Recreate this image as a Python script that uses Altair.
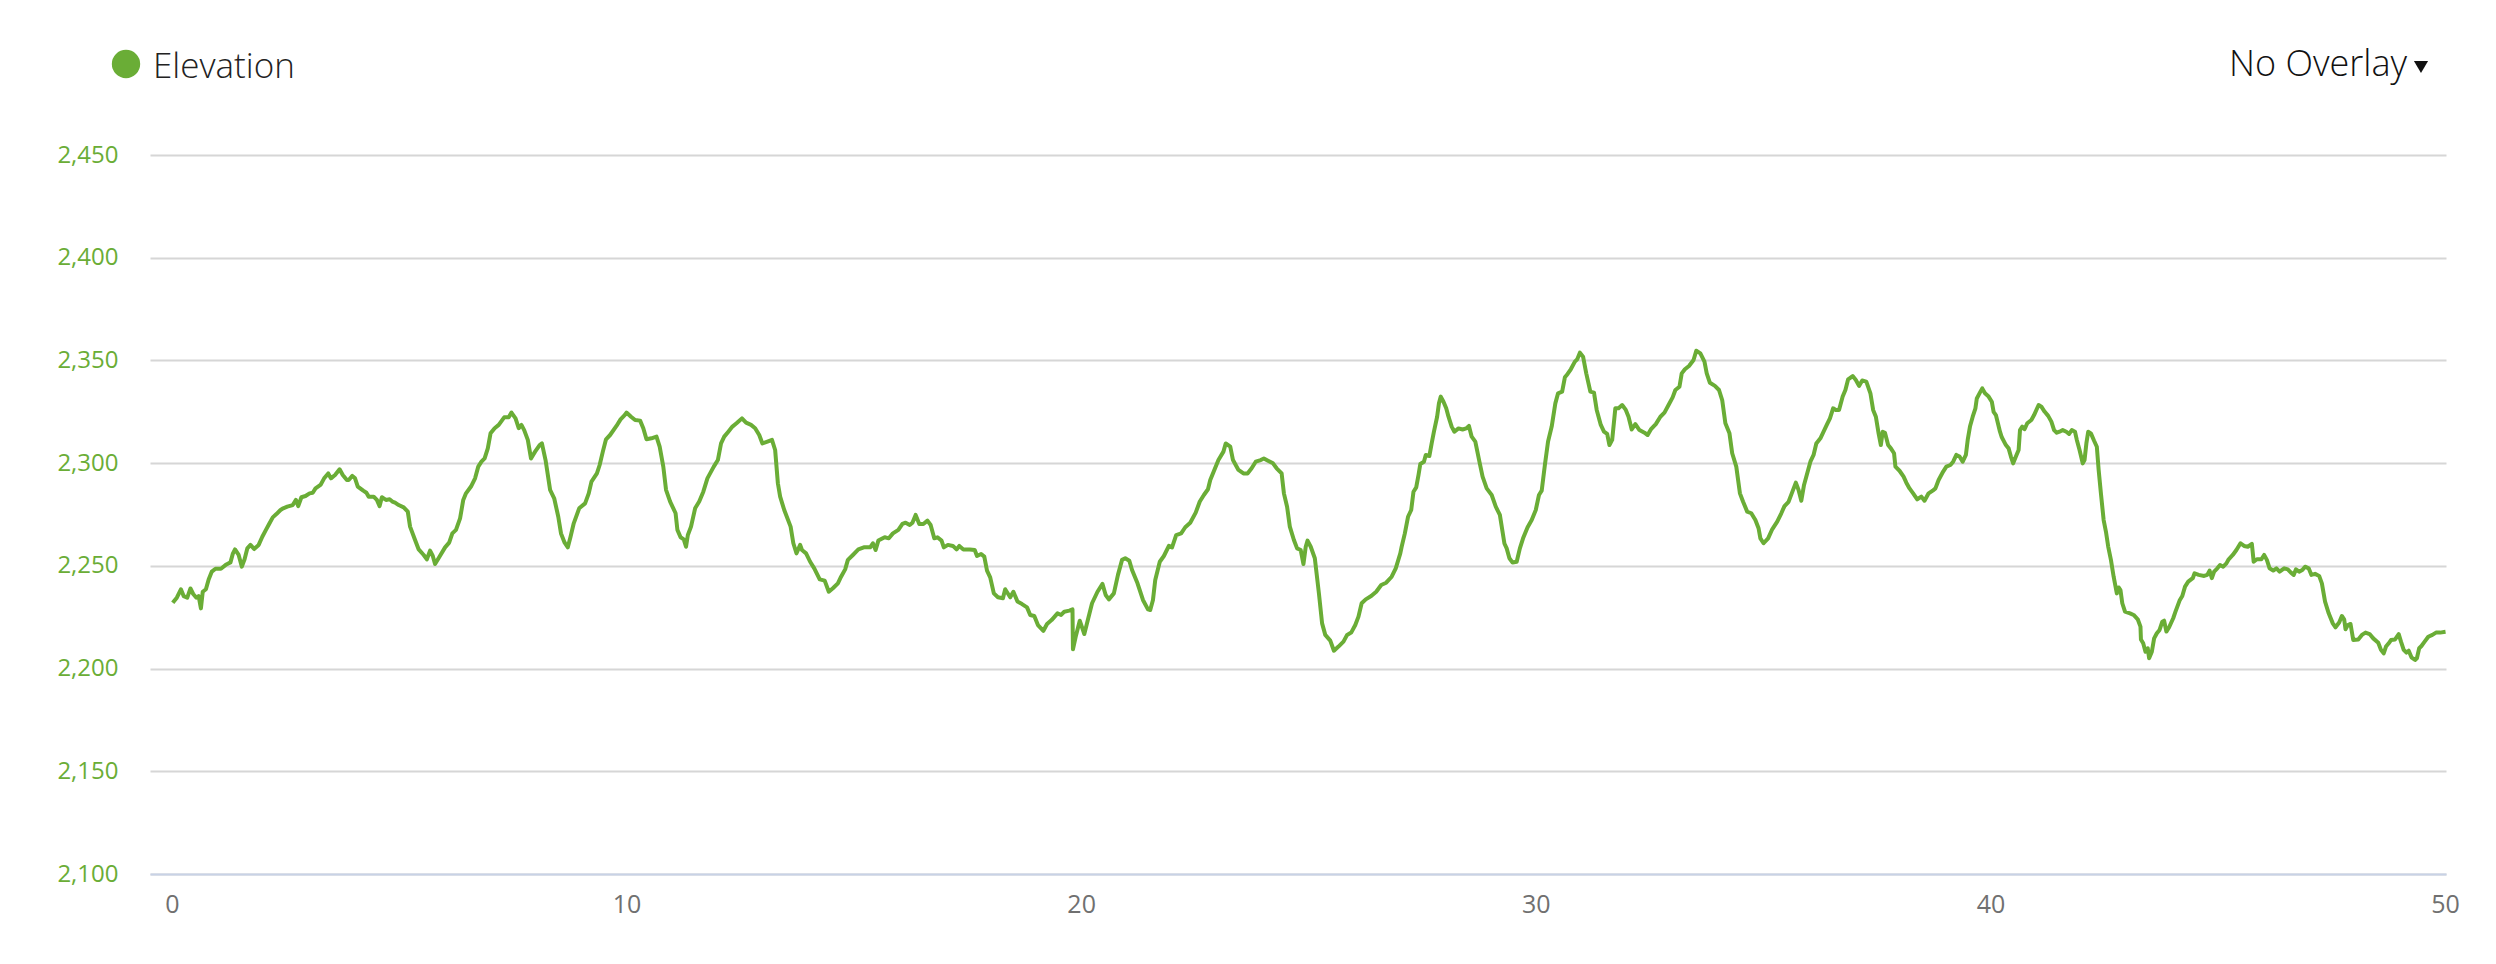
import altair as alt
import pandas as pd

# ---- data (distance in km, elevation in m) ----
distance_km = [
    0.02, 0.11, 0.20, 0.26, 0.34, 0.41, 0.47, 0.54, 0.59, 0.64, 0.68, 0.75, 0.81, 0.88, 0.96,
    1.08, 1.20, 1.29, 1.34, 1.39, 1.47, 1.54, 1.60, 1.66, 1.73, 1.81, 1.91, 1.99, 2.07, 2.14,
    2.22, 2.30, 2.39, 2.45, 2.54, 2.66, 2.73, 2.78, 2.85, 2.94, 3.03, 3.10, 3.16, 3.27, 3.35,
    3.44, 3.50, 3.59, 3.69, 3.76, 3.85, 3.89, 3.97, 4.03, 4.09, 4.21, 4.28, 4.33, 4.44, 4.51,
    4.57, 4.62, 4.71, 4.79, 4.85, 4.91, 4.99, 5.10, 5.19, 5.24, 5.35, 5.43, 5.54, 5.61, 5.68,
    5.74, 5.79, 5.88, 6.01, 6.10, 6.17, 6.25, 6.34, 6.41, 6.47, 6.58, 6.67, 6.74, 6.81, 6.88,
    6.95, 7.01, 7.10, 7.19, 7.31, 7.41, 7.47, 7.56, 7.63, 7.69, 7.75, 7.83, 7.90, 7.99, 8.09,
    8.14, 8.22, 8.32, 8.41, 8.50, 8.56, 8.64, 8.71, 8.77, 8.84, 8.96, 9.09, 9.17, 9.23, 9.35,
    9.41, 9.48, 9.55, 9.64, 9.78, 9.87, 9.96, 10.00, 10.10, 10.19, 10.30, 10.37, 10.44, 10.55, 10.66,
    10.73, 10.81, 10.87, 10.96, 11.08, 11.12, 11.19, 11.26, 11.31, 11.35, 11.42, 11.51, 11.60, 11.69, 11.78,
    11.92, 12.01, 12.08, 12.15, 12.24, 12.33, 12.42, 12.54, 12.63, 12.74, 12.83, 12.92, 12.99, 13.10, 13.20,
    13.27, 13.33, 13.38, 13.47, 13.61, 13.67, 13.74, 13.82,
    13.86, 13.95, 14.04, 14.13, 14.25, 14.36, 14.45, 14.54, 14.65, 14.72, 14.81, 14.87, 14.98, 15.10, 15.22,
    15.36, 15.42, 15.48, 15.54, 15.68, 15.77, 15.86, 15.98, 16.07, 16.14, 16.23, 16.29, 16.36, 16.44, 16.53,
    16.62, 16.69, 16.77, 16.84, 16.93, 16.98, 17.07, 17.18, 17.26, 17.32, 17.41, 17.55, 17.66, 17.71, 17.80,
    17.87, 17.93, 18.00, 18.08, 18.17, 18.28, 18.33, 18.44, 18.51, 18.60, 18.70, 18.81, 18.88, 18.97, 19.05,
    19.17, 19.25, 19.35, 19.48, 19.56, 19.63, 19.74, 19.81, 19.82, 19.88, 19.97, 20.07, 20.15, 20.24, 20.36,
    20.47, 20.54, 20.61, 20.72, 20.81, 20.90, 20.97, 21.06, 21.12, 21.24, 21.36, 21.47, 21.52, 21.58, 21.63,
    21.73, 21.82, 21.93, 22.00, 22.09, 22.20, 22.29, 22.40, 22.52, 22.61, 22.70, 22.79, 22.84, 22.93, 23.02,
    23.13, 23.18, 23.28, 23.34, 23.46, 23.57, 23.66, 23.75, 23.84, 23.95, 24.02, 24.11, 24.22, 24.30, 24.41,
    24.46, 24.53, 24.59, 24.68, 24.75, 24.83, 24.89, 24.94, 24.98, 25.05, 25.14, 25.23, 25.30, 25.37, 25.48,
    25.56, 25.66, 25.77, 25.85, 25.94, 26.03, 26.10, 26.17, 26.26, 26.38, 26.49, 26.60, 26.71, 26.83, 26.92,
    27.02,
    27.05, 27.12, 27.19, 27.26, 27.31, 27.37, 27.42, 27.46, 27.54, 27.58, 27.66, 27.71, 27.76, 27.83, 27.87,
    27.91, 27.97, 28.03, 28.08, 28.15, 28.21, 28.30, 28.39, 28.47, 28.53, 28.59, 28.67, 28.76, 28.83, 28.92,
    29.03, 29.12, 29.21, 29.31, 29.36, 29.42, 29.49, 29.58, 29.65, 29.72, 29.82, 29.91, 30.00, 30.07, 30.13,
    30.20, 30.27, 30.35, 30.43, 30.49, 30.58, 30.64, 30.70, 30.77, 30.86, 30.91, 30.97, 31.04, 31.11, 31.20,
    31.28, 31.34, 31.43, 31.50, 31.57, 31.62, 31.68, 31.75, 31.82, 31.90, 31.98, 32.04, 32.11, 32.19, 32.28,
    32.39, 32.46, 32.53, 32.64, 32.74, 32.83, 32.92, 33.01, 33.07, 33.16, 33.21, 33.28, 33.37, 33.47, 33.53,
    33.62, 33.71, 33.76, 33.83, 33.94, 34.03, 34.10, 34.17, 34.26, 34.32, 34.41, 34.49, 34.56, 34.65, 34.74,
    34.83, 34.90, 34.94, 35.01, 35.11, 35.20, 35.31, 35.40, 35.47, 35.56, 35.63, 35.72, 35.78, 35.84, 35.90,
    35.96, 36.04, 36.11, 36.17, 36.26, 36.33, 36.40, 36.47, 36.54, 36.60, 36.67, 36.75, 36.81, 36.87, 36.97,
    37.04, 37.11, 37.18, 37.27, 37.36, 37.42, 37.48, 37.54, 37.59, 37.63, 37.68, 37.75, 37.81, 37.88, 37.91,
    38.00, 38.09, 38.15, 38.22, 38.30, 38.39, 38.48, 38.55, 38.64, 38.73, 38.79, 38.86, 38.96, 39.03, 39.12,
    39.18, 39.25, 39.32, 39.39, 39.46, 39.50, 39.55, 39.61, 39.67, 39.70, 39.78, 39.82, 39.88, 39.96, 40.03,
    40.07, 40.12, 40.21,
    40.25, 40.34, 40.40, 40.45, 40.50, 40.56, 40.62, 40.65, 40.70, 40.75, 40.81, 40.90, 40.96, 41.01, 41.06,
    41.12, 41.19, 41.27, 41.34, 41.40, 41.46, 41.52, 41.59, 41.67, 41.73, 41.79, 41.86, 41.90, 41.96, 42.03,
    42.07, 42.11, 42.15, 42.21, 42.28, 42.34, 42.38, 42.43, 42.49, 42.54, 42.59, 42.65, 42.71, 42.78, 42.82,
    42.86, 42.90, 42.96, 43.07, 43.15, 43.24, 43.30, 43.31, 43.36, 43.41, 43.46, 43.49, 43.55, 43.60, 43.66,
    43.72, 43.78, 43.82, 43.87, 43.93, 44.02, 44.07, 44.16, 44.22, 44.28, 44.35, 44.45, 44.49, 44.58, 44.70,
    44.77, 44.82, 44.87, 44.92, 44.99, 45.05, 45.12, 45.19, 45.24, 45.33, 45.41, 45.50, 45.58, 45.66, 45.75,
    45.79, 45.86, 45.96, 46.02, 46.08, 46.14, 46.22, 46.29, 46.36, 46.46, 46.54, 46.61, 46.67, 46.72, 46.79,
    46.86, 46.92, 47.00, 47.06, 47.14, 47.23, 47.29, 47.36, 47.44, 47.53, 47.59, 47.67, 47.73, 47.78, 47.81,
    47.86, 47.92, 47.98, 48.09, 48.17, 48.25, 48.34, 48.42, 48.53, 48.59, 48.65, 48.70, 48.76, 48.81, 48.90,
    48.98, 49.03, 49.09, 49.15, 49.20, 49.26, 49.34, 49.38, 49.43, 49.48, 49.55, 49.63, 49.72, 49.80, 49.89,
    50.01,
]

elevation_m = [
    2232.0, 2234.5, 2238.6, 2235.3, 2234.5, 2239.0, 2236.3, 2234.5, 2235.3, 2229.3, 2237.4, 2238.6, 2243.4, 2247.2, 2248.6,
    2248.6, 2250.7, 2251.7, 2255.8, 2258.0, 2255.3, 2249.6, 2253.2, 2258.5, 2260.2, 2258.2, 2260.2, 2264.2, 2267.5, 2270.4,
    2273.6, 2275.2, 2277.2, 2278.0, 2278.8, 2279.6, 2282.1, 2279.1, 2283.4, 2284.0, 2285.3, 2285.6, 2287.7, 2289.4, 2292.6,
    2295.0, 2292.6, 2294.2, 2297.0, 2294.2, 2291.8, 2291.8, 2293.8, 2292.6, 2288.6, 2286.6, 2285.6, 2283.7, 2283.7, 2282.1,
    2279.1, 2283.4, 2282.1, 2282.4, 2281.3, 2280.8, 2279.6, 2278.5, 2276.4, 2269.1, 2262.6, 2258.0, 2255.3, 2253.2, 2257.4,
    2254.8, 2250.9, 2254.2, 2259.0, 2261.3, 2265.8, 2267.5, 2273.1, 2282.1, 2285.3, 2288.6, 2292.6, 2298.3, 2300.7, 2302.3,
    2307.2, 2314.5, 2317.0, 2318.6, 2322.3, 2322.3, 2324.6, 2321.8, 2317.0, 2318.6, 2316.1, 2311.3, 2302.3, 2305.6, 2308.8,
    2309.6, 2301.5, 2287.0, 2282.9, 2273.9, 2265.8, 2261.3, 2259.0, 2264.2, 2270.7, 2278.0, 2280.4, 2285.3, 2291.0, 2295.0,
    2299.1, 2305.6, 2311.6, 2313.7, 2318.1, 2321.3, 2323.4, 2324.6, 2322.6, 2321.0, 2320.7, 2317.0, 2311.6, 2312.1, 2312.9,
    2308.0, 2298.3, 2287.0, 2281.3, 2275.6, 2267.5, 2263.9, 2262.9, 2259.3, 2265.0, 2269.1, 2278.0, 2281.3, 2286.1, 2292.6,
    2298.3, 2301.5, 2309.6, 2312.9, 2315.3, 2317.8, 2319.4, 2321.8, 2319.7, 2318.6, 2317.0, 2313.7, 2309.6, 2310.5, 2311.3,
    2306.4, 2290.2, 2283.7, 2277.2, 2269.1, 2261.0, 2256.1, 2260.2,
    2257.7, 2256.1, 2252.0, 2248.8, 2243.4, 2242.8, 2237.4, 2239.1, 2241.5, 2244.7, 2248.3, 2252.9, 2255.3, 2258.0, 2259.0,
    2259.0, 2261.0, 2257.7, 2262.3, 2263.9, 2263.4, 2265.8, 2267.5, 2270.4, 2271.0, 2269.9, 2271.0, 2274.8, 2270.4, 2270.4,
    2272.0, 2269.9, 2263.4, 2263.9, 2262.3, 2259.0, 2260.2, 2259.7, 2258.0, 2259.7, 2258.0, 2258.0, 2257.7, 2254.8, 2255.8,
    2254.5, 2247.7, 2244.4, 2236.6, 2234.7, 2234.2, 2238.6, 2234.7, 2237.4, 2232.6, 2231.4, 2229.8, 2226.1, 2225.6, 2221.2,
    2218.4, 2221.7, 2223.6, 2226.9, 2226.1, 2227.7, 2228.2, 2228.8, 2209.4, 2215.5, 2223.3, 2216.8, 2223.9, 2231.8, 2237.4,
    2241.2, 2235.8, 2233.7, 2236.6, 2245.6, 2252.9, 2253.7, 2252.5, 2248.0, 2241.5, 2233.4, 2228.8, 2228.5, 2233.4, 2243.1,
    2252.0, 2254.8, 2259.7, 2259.0, 2265.0, 2265.8, 2268.8, 2271.0, 2275.9, 2281.3, 2284.5, 2287.3, 2291.8, 2296.7, 2301.5,
    2305.6, 2309.6, 2308.0, 2301.5, 2296.7, 2295.0, 2295.0, 2297.5, 2300.7, 2301.5, 2302.3, 2301.2, 2299.9, 2297.5, 2295.0,
    2285.3, 2278.8, 2269.1, 2262.6, 2258.5, 2257.7, 2250.9, 2259.3, 2262.3, 2259.3, 2253.7, 2236.6, 2222.0, 2216.4, 2213.6,
    2208.7, 2210.7, 2213.1, 2216.4, 2217.5, 2221.2, 2225.3, 2231.8, 2233.7, 2235.3, 2237.4, 2240.7, 2241.8, 2244.7, 2248.8,
    2256.1,
    2259.3, 2265.8, 2273.9, 2277.2, 2286.1, 2288.2, 2294.2, 2299.6, 2300.7, 2304.0, 2303.5, 2309.6, 2315.3, 2322.6, 2329.1,
    2332.4, 2329.9, 2326.7, 2322.6, 2317.8, 2315.3, 2316.9, 2316.4, 2316.9, 2318.1, 2312.9, 2310.5, 2300.7, 2293.4, 2287.7,
    2284.5, 2278.8, 2274.8, 2260.9, 2258.5, 2253.7, 2251.6, 2252.0, 2258.5, 2263.4, 2268.8, 2272.3, 2277.2, 2284.5, 2286.6,
    2299.1, 2310.5, 2317.8, 2329.1, 2334.0, 2334.8, 2341.8, 2343.4, 2345.7, 2349.4, 2350.5, 2353.8, 2351.8, 2343.7, 2334.8,
    2334.3, 2325.9, 2318.6, 2315.3, 2314.2, 2308.8, 2311.3, 2326.7, 2326.7, 2328.3, 2325.9, 2322.6, 2316.4, 2319.0, 2316.1,
    2314.8, 2313.7, 2316.4, 2319.0, 2322.6, 2324.6, 2328.3, 2332.0, 2335.6, 2337.2, 2343.7, 2345.7, 2347.3, 2350.2, 2354.7,
    2353.4, 2349.4, 2343.7, 2339.1, 2337.6, 2335.6, 2330.7, 2319.4, 2314.5, 2304.8, 2298.3, 2285.3, 2281.2, 2276.4, 2275.6,
    2272.3, 2268.3, 2263.4, 2261.0, 2263.4, 2267.8, 2271.5, 2275.6, 2279.1, 2281.2, 2285.3, 2290.5, 2286.9, 2281.7, 2289.4,
    2294.2, 2300.7, 2304.0, 2309.6, 2312.1, 2315.3, 2318.6, 2321.8, 2326.7, 2325.9, 2325.9, 2332.4, 2335.6, 2340.8, 2342.4,
    2340.5, 2337.6, 2340.2, 2339.7, 2334.0, 2325.9, 2322.6, 2314.5, 2308.8, 2315.3, 2314.8, 2308.8, 2307.2, 2304.8, 2298.3,
    2296.3, 2293.4, 2290.5, 2287.7, 2285.3, 2282.4, 2283.7, 2281.7, 2285.3, 2286.6, 2287.7, 2291.8, 2295.9, 2298.3, 2299.1,
    2300.7, 2304.0, 2303.2, 2300.7, 2304.0, 2311.3, 2317.8, 2322.6, 2326.7, 2331.5, 2334.8, 2336.4, 2334.0, 2332.4, 2329.9,
    2325.0, 2323.4, 2315.3,
    2312.6, 2308.8, 2307.2, 2303.2, 2299.9, 2303.2, 2306.4, 2316.1, 2317.8, 2316.5, 2319.4, 2321.0, 2323.4, 2325.9, 2328.3,
    2327.5, 2325.1, 2323.0, 2320.2, 2316.1, 2314.8, 2315.3, 2316.1, 2315.3, 2314.2, 2316.1, 2315.3, 2311.3, 2306.4, 2299.9,
    2301.5, 2309.6, 2315.3, 2314.5, 2310.9, 2308.0, 2296.7, 2285.3, 2272.3, 2266.7, 2259.4, 2252.9, 2244.7, 2236.6, 2239.5,
    2238.2, 2231.8, 2227.7, 2226.9, 2226.1, 2224.0, 2220.4, 2214.2, 2212.3, 2208.2, 2209.9, 2205.0, 2208.2, 2214.7, 2217.2,
    2218.8, 2222.8, 2223.3, 2218.0, 2220.1, 2224.5, 2227.7, 2233.1, 2235.3, 2239.9, 2242.3, 2244.0, 2246.4, 2245.6, 2245.1,
    2245.6, 2247.7, 2244.0, 2247.2, 2248.8, 2250.4, 2249.6, 2251.2, 2253.2, 2255.3, 2257.7, 2261.0, 2259.7, 2259.3, 2260.7,
    2252.0, 2253.2, 2253.2, 2255.3, 2252.9, 2248.8, 2247.7, 2248.8, 2247.2, 2248.8, 2248.3, 2246.7, 2245.6, 2248.3, 2247.2,
    2248.0, 2249.6, 2248.8, 2245.6, 2246.1, 2245.1, 2241.5, 2232.6, 2226.9, 2222.0, 2220.1, 2222.4, 2225.6, 2224.0, 2219.1,
    2221.2, 2221.7, 2213.9, 2214.2, 2216.4, 2217.5, 2216.8, 2214.7, 2212.6, 2209.1, 2207.4, 2210.7, 2212.3, 2213.9, 2214.2,
    2216.8, 2213.1, 2209.1, 2207.8, 2208.7, 2205.5, 2204.2, 2205.0, 2209.9, 2211.0, 2213.1, 2215.5, 2216.4, 2217.5, 2217.5,
    2217.9,
]

y_ticks = [2100, 2150, 2200, 2250, 2300, 2350, 2400, 2450]
x_ticks = [0, 10, 20, 30, 40, 50]
legend_label = ["Elevation"]
overlay_label = ["No Overlay"]

GREEN = "#6aad36"
FONT = "Open Sans"

df = pd.DataFrame({"distance": distance_km, "elevation": elevation_m})

line = alt.Chart(df).mark_line(color=GREEN, strokeWidth=4, strokeJoin="round").encode(
    x=alt.X(
        "distance:Q",
        scale=alt.Scale(domain=[-0.48, 50.02], nice=False, zero=False),
        axis=alt.Axis(
            values=x_ticks, format="d", title=None, grid=False, ticks=False, domain=True,
            domainColor="#c8d2e6", domainWidth=2, labelColor="#707070",
            labelFontSize=25, labelFont=FONT, labelPadding=18, labelFlush=False,
        ),
    ),
    y=alt.Y(
        "elevation:Q",
        scale=alt.Scale(domain=[2100, 2450], nice=False, zero=False),
        axis=alt.Axis(
            values=y_ticks, format=",.0f", title=None, grid=True, gridColor="#d6d6d6",
            gridWidth=2, ticks=False, domain=False, labelColor=GREEN,
            labelFontSize=24, labelFont=FONT, labelPadding=32,
        ),
    ),
)

legend_dot = alt.Chart(pd.DataFrame({"label": legend_label})).mark_circle(
    color=GREEN, opacity=1, size=804
).encode(x=alt.value(-24), y=alt.value(-91))

legend_text = alt.Chart(pd.DataFrame({"label": legend_label})).mark_text(
    align="left", baseline="alphabetic", fontSize=35, font=FONT, fontWeight=300, color="#222222"
).encode(x=alt.value(3), y=alt.value(-77), text="label:N")

overlay_text = alt.Chart(pd.DataFrame({"label": overlay_label})).mark_text(
    align="right", baseline="alphabetic", fontSize=36, font=FONT, fontWeight=300, color="#111111"
).encode(x=alt.value(2257), y=alt.value(-79), text="label:N")

overlay_arrow = alt.Chart(pd.DataFrame({"label": overlay_label})).mark_point(
    shape="triangle-down", filled=True, size=200, color="#111111", opacity=1
).encode(x=alt.value(2271), y=alt.value(-88))

chart = alt.layer(line, legend_dot, legend_text, overlay_text, overlay_arrow).properties(
    width=2296,
    height=719,
    autosize=alt.AutoSizeParams(type="none"),
    padding={"left": 142, "top": 147, "right": 42, "bottom": 70},
    background="white",
).configure_view(stroke=None)

chart.save("out.html", embed_options={"renderer": "svg", "actions": False})
